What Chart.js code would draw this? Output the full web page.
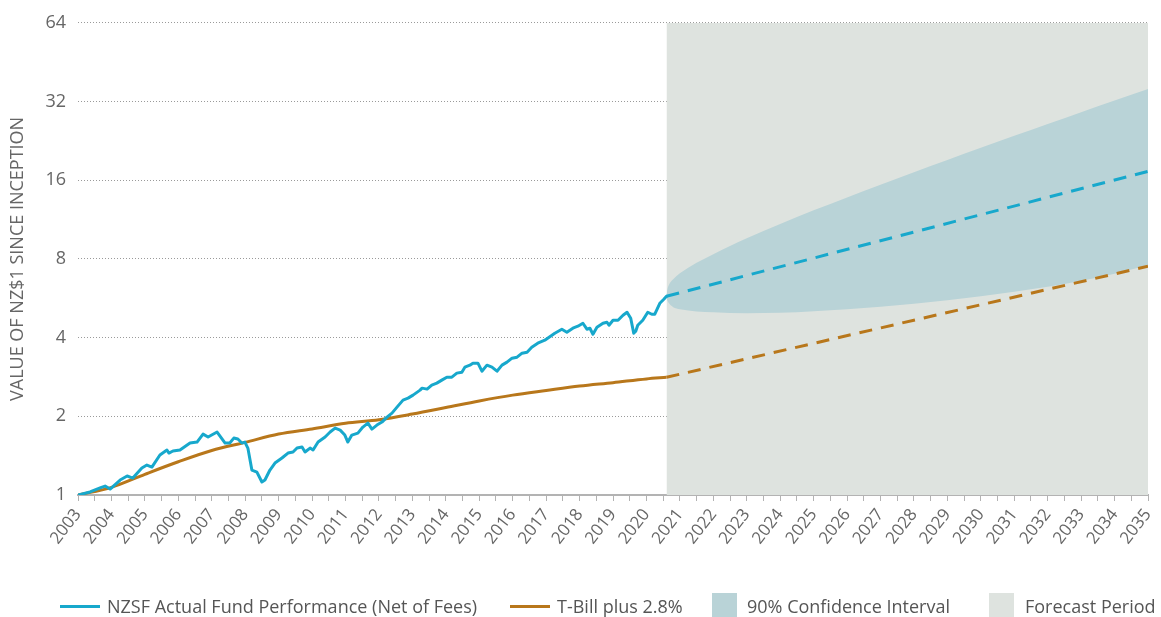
<!DOCTYPE html>
<html>
<head>
<meta charset="utf-8">
<script src="https://cdn.jsdelivr.net/npm/chart.js@4/dist/chart.umd.min.js"></script>
<style>
  html, body { margin: 0; padding: 0; background: #fff; }
  #wrap { position: relative; width: 1161px; height: 617px; overflow: hidden; font-family: "Open Sans", "Noto Sans", sans-serif; }
  #chart { position: absolute; left: 0; top: 0; }
  .lg { position: absolute; color: #555; font-size: 18px; line-height: 22px; white-space: nowrap; }
  .lg-line { position: absolute; height: 3px; width: 40px; }
  .lg-box { position: absolute; width: 25px; height: 25px; }
</style>
</head>
<body>
<div id="wrap">
  <canvas id="chart" width="1161" height="617"></canvas>
  <div class="lg-line" style="left:60px; top:605px; background:#17a8cc;"></div>
  <div class="lg" style="left:107px; top:595px;">NZSF Actual Fund Performance (Net of Fees)</div>
  <div class="lg-line" style="left:510px; top:605px; background:#b8771b;"></div>
  <div class="lg" style="left:557px; top:595px;">T-Bill plus 2.8%</div>
  <div class="lg-box" style="left:712px; top:593px; background:#b9d3d7;"></div>
  <div class="lg" style="left:747px; top:595px;">90% Confidence Interval</div>
  <div class="lg-box" style="left:989px; top:593px; background:#dee3df;"></div>
  <div class="lg" style="left:1025px; top:595px;">Forecast Period</div>
</div>
<script>
// Fund value (NZ$1 invested at inception), net of fees
const fundYears = [
  2003.00, 2003.36, 2003.66, 2003.81, 2003.96, 2004.26, 2004.47, 2004.64, 2004.91, 2005.06,
  2005.21, 2005.45, 2005.66, 2005.72, 2005.84, 2006.05, 2006.35, 2006.56, 2006.74, 2006.89,
  2007.16, 2007.40, 2007.54, 2007.66, 2007.78, 2007.90, 2007.99, 2008.08, 2008.20, 2008.35,
  2008.50, 2008.59, 2008.74, 2008.89, 2009.10, 2009.28, 2009.43, 2009.55, 2009.70, 2009.79,
  2009.94, 2010.03, 2010.18, 2010.39, 2010.54, 2010.69, 2010.84, 2010.98, 2011.07, 2011.19,
  2011.37, 2011.52, 2011.67, 2011.79, 2011.94, 2012.09, 2012.24, 2012.39, 2012.54, 2012.72,
  2012.87, 2013.02, 2013.23, 2013.29, 2013.44, 2013.58, 2013.73, 2013.88, 2014.03, 2014.18,
  2014.33, 2014.48, 2014.57, 2014.72, 2014.81, 2014.96, 2015.08, 2015.23, 2015.38, 2015.53,
  2015.68, 2015.83, 2015.98, 2016.13, 2016.28, 2016.43, 2016.57, 2016.75, 2016.96, 2017.26,
  2017.47, 2017.62, 2017.80, 2017.95, 2018.10, 2018.22, 2018.31, 2018.40, 2018.52, 2018.70,
  2018.82, 2018.88, 2019.00, 2019.15, 2019.30, 2019.42, 2019.53, 2019.62, 2019.68, 2019.74,
  2019.89, 2020.04, 2020.16, 2020.25, 2020.40, 2020.52, 2020.60
];
const fundValues = [
  1.000, 1.027, 1.064, 1.082, 1.054, 1.141, 1.182, 1.161, 1.268, 1.302,
  1.279, 1.422, 1.486, 1.447, 1.473, 1.486, 1.580, 1.594, 1.710, 1.666,
  1.741, 1.580, 1.580, 1.651, 1.637, 1.580, 1.594, 1.512, 1.246, 1.224,
  1.121, 1.141, 1.246, 1.325, 1.385, 1.447, 1.460, 1.512, 1.525, 1.460,
  1.512, 1.486, 1.594, 1.666, 1.741, 1.803, 1.771, 1.695, 1.594, 1.695,
  1.725, 1.819, 1.884, 1.787, 1.851, 1.901, 1.986, 2.057, 2.169, 2.306,
  2.347, 2.410, 2.518, 2.563, 2.541, 2.632, 2.678, 2.750, 2.823, 2.823,
  2.925, 2.950, 3.083, 3.138, 3.193, 3.193, 2.976, 3.138, 3.083, 2.976,
  3.138, 3.222, 3.337, 3.367, 3.487, 3.518, 3.676, 3.808, 3.909, 4.158,
  4.307, 4.194, 4.345, 4.422, 4.540, 4.307, 4.345, 4.121, 4.383, 4.540,
  4.580, 4.461, 4.661, 4.661, 4.871, 5.001, 4.744, 4.158, 4.231, 4.461,
  4.661, 5.001, 4.914, 4.914, 5.413, 5.607, 5.757
];

// T-Bill plus 2.8% benchmark (historical)
const tbillYears = [
  2003, 2004, 2005, 2006, 2007, 2008, 2009, 2010, 2011, 2012,
  2013, 2014, 2015, 2016, 2017, 2018, 2019, 2020, 2020.6
];
const tbillValues = [
  1.00, 1.07, 1.20, 1.34, 1.48, 1.59, 1.71, 1.79, 1.88, 1.94,
  2.04, 2.16, 2.29, 2.41, 2.51, 2.61, 2.69, 2.78, 2.82
];

// Projections from the end of the actual record
const fundForecastYears = [2020.6, 2035];
const fundForecastValues = [5.757, 17.3];
const tbillForecastYears = [2020.6, 2035];
const tbillForecastValues = [2.82, 7.50];

// 90% confidence interval for the fund projection
const bandYears = [
  2020.60, 2020.62, 2020.67, 2020.80, 2021, 2022, 2023, 2024, 2025, 2026,
  2027, 2028, 2029, 2030, 2031, 2032, 2033, 2034, 2035
];
const bandUpper = [
  5.757, 6.05, 6.36, 6.69, 7.05, 8.33, 9.59, 10.89, 12.27, 13.75,
  15.38, 17.17, 19.13, 21.28, 23.65, 26.25, 29.12, 32.28, 35.75
];
const bandLower = [
  5.757, 5.58, 5.42, 5.23, 5.14, 5.00, 4.96, 4.98, 5.05, 5.14,
  5.25, 5.39, 5.56, 5.76, 5.99, 6.26, 6.60, 7.02, 7.56
];

// Forecast period shading
const forecastStart = 2020.6;
const forecastEnd = 2035;

// Axis ticks
const yTicks = [1, 2, 4, 8, 16, 32, 64];
const yearLabels = [
  '2003', '2004', '2005', '2006', '2007', '2008', '2009', '2010', '2011',
  '2012', '2013', '2014', '2015', '2016', '2017', '2018', '2019', '2020',
  '2021', '2022', '2023', '2024', '2025', '2026', '2027', '2028', '2029',
  '2030', '2031', '2032', '2033', '2034', '2035'
];

const CYAN = '#17a8cc';
const BROWN = '#b8771b';
const BAND = '#b9d3d7';
const SHADE = '#dee3df';

const pts = (xs, ys) => xs.map((x, i) => ({ x: x, y: ys[i] }));

// tick marks every half year; labels on whole years
const xTickValues = [];
yearLabels.forEach((lbl, i) => {
  const yr = Number(lbl);
  xTickValues.push(yr);
  if (i < yearLabels.length - 1) xTickValues.push(yr + 0.5);
});

const FONT = "'Open Sans', 'Noto Sans', sans-serif";

new Chart(document.getElementById('chart'), {
  type: 'line',
  data: {
    datasets: [
      {
        label: 'NZSF Actual Fund Performance (Net of Fees)',
        data: pts(fundYears, fundValues),
        borderColor: CYAN, borderWidth: 3, pointRadius: 0, tension: 0,
        borderJoinStyle: 'round', borderCapStyle: 'round', fill: false
      },
      {
        label: 'Fund projection',
        data: pts(fundForecastYears, fundForecastValues),
        borderColor: CYAN, borderWidth: 3, pointRadius: 0,
        borderDash: [13, 9], fill: false
      },
      {
        label: 'T-Bill plus 2.8%',
        data: pts(tbillYears, tbillValues),
        borderColor: BROWN, borderWidth: 3, pointRadius: 0,
        cubicInterpolationMode: 'monotone', fill: false
      },
      {
        label: 'T-Bill projection',
        data: pts(tbillForecastYears, tbillForecastValues),
        borderColor: BROWN, borderWidth: 3, pointRadius: 0,
        borderDash: [13, 9], fill: false
      },
      {
        label: '90% Confidence Interval',
        data: pts(bandYears, bandUpper),
        borderWidth: 0, borderColor: 'rgba(0,0,0,0)', pointRadius: 0,
        cubicInterpolationMode: 'monotone',
        backgroundColor: BAND, fill: '+1'
      },
      {
        label: 'Interval lower bound',
        data: pts(bandYears, bandLower),
        borderWidth: 0, borderColor: 'rgba(0,0,0,0)', pointRadius: 0,
        cubicInterpolationMode: 'monotone', fill: false
      },
      {
        label: 'Forecast Period',
        data: [{ x: forecastStart, y: 64 }, { x: forecastEnd, y: 64 }],
        borderWidth: 0, borderColor: 'rgba(0,0,0,0)', pointRadius: 0,
        backgroundColor: SHADE, fill: 'start'
      }
    ]
  },
  options: {
    responsive: false,
    animation: false,
    devicePixelRatio: 1,
    layout: { padding: { left: 0, right: 13, top: 22, bottom: 0 } },
    plugins: { legend: { display: false }, tooltip: { enabled: false } },
    scales: {
      x: {
        type: 'linear',
        min: 2003, max: 2035,
        afterBuildTicks: (s) => { s.ticks = xTickValues.map(v => ({ value: v })); },
        afterFit: (s) => { s.height = 122; s.paddingLeft = 0; s.paddingRight = 0; },
        ticks: {
          autoSkip: false,
          minRotation: 52, maxRotation: 52,
          padding: 4,
          color: '#666',
          font: { family: FONT, size: 17 },
          callback: (v) => {
            const i = yearLabels.indexOf(String(v));
            return i >= 0 ? yearLabels[i] : '';
          }
        },
        grid: { drawOnChartArea: false, drawTicks: true, tickLength: 6, color: '#b3b3b3', lineWidth: 1 },
        border: { display: true, color: '#b3b3b3', width: 2 }
      },
      y: {
        type: 'logarithmic',
        min: 1, max: 64,
        z: 1,
        afterBuildTicks: (s) => { s.ticks = yTicks.map(v => ({ value: v })); },
        afterFit: (s) => { s.width = 78; },
        ticks: {
          padding: 12,
          color: '#666',
          font: { family: FONT, size: 18 },
          callback: (v) => String(v)
        },
        grid: {
          drawTicks: false,
          color: (ctx) => (ctx.tick && ctx.tick.value === 1 ? 'rgba(0,0,0,0)' : '#9a9a9a'),
          lineWidth: 1
        },
        border: { display: false, dash: [1, 2] },
        title: {
          display: true,
          text: 'VALUE OF NZ$1 SINCE INCEPTION',
          color: '#666',
          font: { family: FONT, size: 18 },
          padding: { top: 7, bottom: 0 }
        }
      }
    }
  }
});
</script>
</body>
</html>
